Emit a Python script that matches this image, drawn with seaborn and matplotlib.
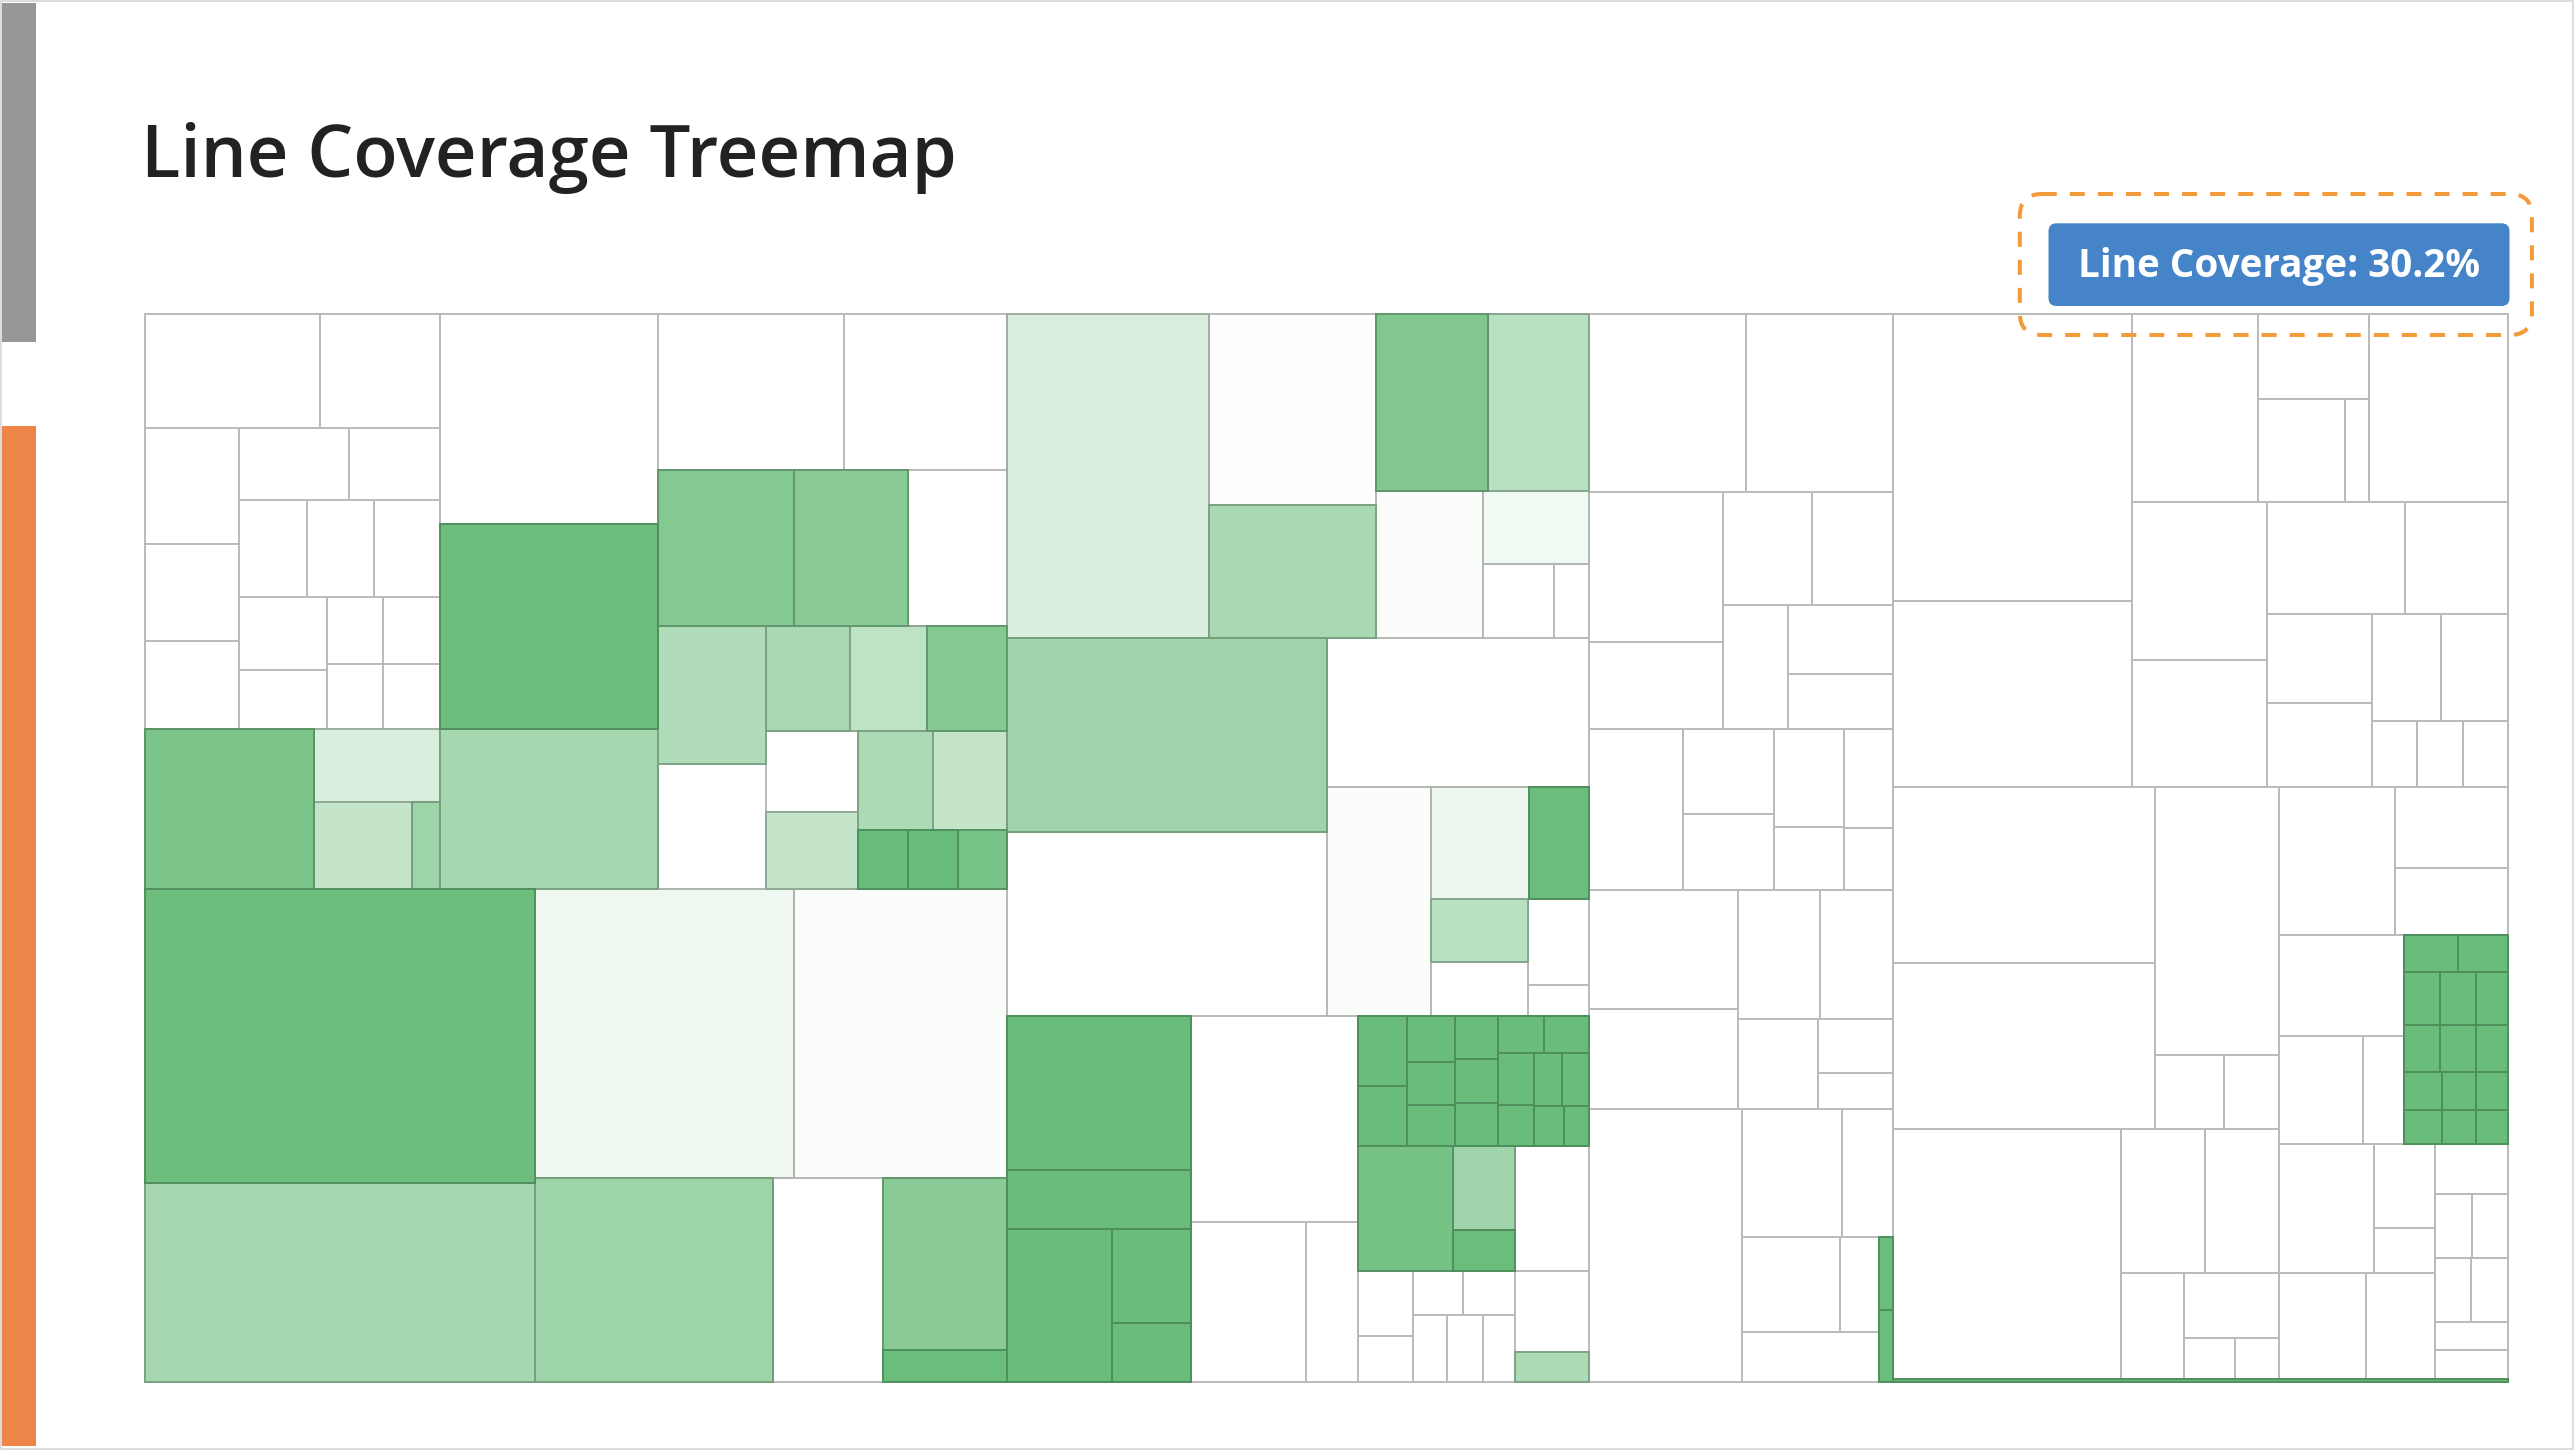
import matplotlib
matplotlib.use("Agg")
import matplotlib.pyplot as plt
from matplotlib.patches import Rectangle, FancyBboxPatch
from matplotlib.colors import to_rgb
import seaborn as sns
import numpy as np

# ---------------- data ----------------
TITLE = "Line Coverage Treemap"
OVERALL_COVERAGE = 30.2  # percent

# Leaves are (lines, coverage fraction); groups are ("H"|"V", [children])
PKG_A = ("V", [
    ("H", [
        ("V", [
            ("V", [
                ("H", [(742, 0), (507, 0)]),
                ("H", [
                    ("V", [(408, 0), (340, 0), (312, 0)]),
                    ("V", [
                        ("H", [(290, 0), (241, 0)]),
                        ("H", [(243, 0), (245, 0), (236, 0)]),
                        ("H", [
                            ("V", [(237, 0), (193, 0)]),
                            ("V", [("H", [(140, 0), (141, 0)]), ("H", [(135, 0), (136, 0)])]),
                        ]),
                    ]),
                ]),
            ]),
            ("H", [(1005, .86), ("V", [(341, .25), ("H", [(318, .39), (90, .64)])])]),
        ]),
        ("V", [(1698, 0), (1663, .95), (1296, .58)]),
        ("V", [
            ("H", [(1075, 0), (944, 0)]),
            ("H", [(788, .80), (657, .77), (571, 0)]),
            ("H", [
                ("V", [(552, .51), (500, 0)]),
                ("V", [
                    ("H", [(329, .56), (301, .43), (312, .80)]),
                    ("H", [
                        ("V", [(276, 0), (266, .39)]),
                        ("V", [("H", [(275, .54), (272, .39)]),
                               ("H", [(112, .98), (110, .98), (110, .88)])]),
                    ]),
                ]),
            ]),
        ]),
    ]),
    ("H", [
        ("V", [(4253, .95), (2892, .58)]),
        ("V", [
            ("H", [(2771, .11), (2274, .03)]),
            ("H", [(1807, .64), (830, 0), ("V", [(794, .77), (149, .97)])]),
        ]),
    ]),
])

PKG_B = ("V", [
    ("H", [
        (2428, .25),
        ("V", [(1181, .01), (825, .56)]),
        ("V", [
            ("H", [(735, .82), (660, .46)]),
            ("H", [(584, .03), ("V", [(286, .09), ("H", [(194, 0), (96, 0)])])]),
        ]),
    ]),
    ("H", [
        ("V", [(2299, .62), (2181, 0)]),
        ("V", [
            (1449, 0),
            ("H", [
                (886, .03),
                ("V", [
                    ("H", [(408, .12), (248, .97)]),
                    ("H", [("V", [(224, .46), (194, 0)]), ("V", [(192, 0), (70, 0)])]),
                ]),
            ]),
        ]),
    ]),
    ("H", [
        ("V", [(1055, .98), (402, .98), ("H", [(596, .98), ("V", [(279, .98), (174, .98)])])]),
        ("V", [(1276, 0), ("H", [(683, 0), (312, 0)])]),
        ("V", [
            ("H", [
                ("V", [(128, .98), (110, .98)]),
                ("V", [(82, .98), (74, .98), (73, .98)]),
                ("V", [(70, .98), (70, .98), (69, .98)]),
                ("V", [
                    ("H", [(65, .98), (62, .98)]),
                    ("H", [("V", [(69, .98), (56, .98)]),
                           ("V", [("H", [(55, .98), (54, .98)]), ("H", [(45, .98), (37, .98)])])]),
                ]),
            ]),
            ("H", [
                ("V", [
                    ("H", [(438, .90), ("V", [(192, .62), (95, .97)])]),
                    ("H", [("V", [(132, 0), (93, 0)]),
                           ("V", [("H", [(80, 0), (84, 0)]), ("H", [(84, 0), (90, 0), (81, 0)])])]),
                ]),
                ("V", [(343, 0), (220, 0), (84, .54)]),
            ]),
        ]),
    ]),
])

PKG_C = ("V", [
    ("H", [(1037, 0), (966, 0)]),
    ("H", [
        ("V", [(746, 0), (430, 0)]),
        ("V", [("H", [(372, 0), (339, 0)]), ("H", [(301, 0), ("V", [(269, 0), (212, 0)])])]),
    ]),
    ("H", [
        (564, 0),
        ("V", [(287, 0), (257, 0)]),
        ("V", [(257, 0), (162, 0)]),
        ("V", [(178, 0), (112, 0)]),
    ]),
    ("H", [
        ("V", [(657, 0), (553, 0)]),
        ("V", [("H", [(398, 0), (348, 0)]), ("H", [(270, 0), ("V", [(149, 0), (99, 0)])])]),
    ]),
    ("H", [
        (1546, 0),
        ("V", [
            ("H", [(478, 0), (241, 0)]),
            ("H", [
                ("V", [("H", [(344, 0), (137, 0)]), (256, 0)]),
                ("V", [(38, .97), (38, .97)]),
            ]),
        ]),
    ]),
])

PKG_D = ("V", [
    ("H", [
        ("V", [(2539, 0), (1651, 0)]),
        ("V", [
            ("H", [(881, 0), ("V", [(346, 0), ("H", [(330, 0), (92, 0)])]), (969, 0)]),
            ("H", [
                ("V", [(791, 0), (636, 0)]),
                ("V", [
                    ("H", [(577, 0), (432, 0)]),
                    ("H", [("V", [(346, 0), (329, 0)]),
                           ("V", [("H", [(274, 0), (269, 0)]), ("H", [(110, 0), (114, 0), (110, 0)])])]),
                ]),
            ]),
        ]),
    ]),
    ("H", [
        ("V", [
            ("H", [("V", [(1710, 0), (1616, 0)]), ("V", [(1245, 0), ("H", [(191, 0), (152, 0)])])]),
            ("H", [(2116, 0), ("V", [("H", [(445, 0), (396, 0)]),
                                    ("H", [(244, 0), ("V", [(233, 0), ("H", [(77, 0), (67, 0)])])])])]),
        ]),
        ("V", [
            ("H", [(637, 0), ("V", [(338, 0), (283, 0)])]),
            ("H", [("V", [(469, 0), ("H", [(336, 0), (164, 0)])]),
                   ("V", [("H", [(74, .98), (69, .98)]),
                          ("H", [(70, .98), (70, .98), (63, .98)]),
                          ("H", [(64, .98), (63, .98), (57, .98)]),
                          ("H", [(54, .98), (48, .98), (46, .98)]),
                          ("H", [(48, .98), (43, .98), (41, .98)])])]),
            ("H", [
                ("V", [("H", [(452, 0), ("V", [(188, 0), (101, 0)])]), ("H", [(341, 0), (269, 0)])]),
                ("V", [(135, 0), ("H", [(89, 0), (87, 0)]), ("H", [(84, 0), (89, 0)]), (78, 0), (78, 0)]),
            ]),
        ]),
    ]),
    (75, .97),
])

PACKAGES = [PKG_A, PKG_B, PKG_C, PKG_D]


# ---------------- layout ----------------
def is_group(node):
    return isinstance(node[0], str)


def total(node):
    if is_group(node):
        return sum(total(k) for k in node[1])
    return node[0]


def layout(node, x0, y0, x1, y1, out):
    if not is_group(node):
        out.append((x0, y0, x1, y1, node[1]))
        return
    direction, kids = node
    tot = float(sum(total(k) for k in kids))
    pos = x0 if direction == "H" else y0
    for k in kids:
        f = total(k) / tot
        if direction == "H":
            w = (x1 - x0) * f
            layout(k, pos, y0, pos + w, y1, out)
            pos += w
        else:
            h = (y1 - y0) * f
            layout(k, x0, pos, x1, pos + h, out)
            pos += h


# ---------------- drawing ----------------
W_PX, H_PX, DPI = 2574, 1450, 100

sns.set_theme(style="white")
plt.rcParams['font.family'] = ['Open Sans', 'DejaVu Sans']
plt.rcParams['lines.scale_dashes'] = False

cmap = sns.blend_palette(["#ffffff", "#66bb77"], as_cmap=True)
edge_lo = np.array(to_rgb("#bababa"))
edge_hi = np.array(to_rgb("#4c8e5a"))

fig = plt.figure(figsize=(W_PX / DPI, H_PX / DPI), dpi=DPI)
fig.patch.set_facecolor("white")

page = fig.add_axes([0, 0, 1, 1])
page.set_xlim(0, W_PX)
page.set_ylim(H_PX, 0)
page.axis("off")

# outer frame and side accent bars
page.add_patch(Rectangle((0.8, 0.8), W_PX - 2.3, H_PX - 2.3, fill=False,
                         ec="#d2d2d2", lw=1.1, zorder=1))
page.add_patch(Rectangle((1.7, 2.8), 34, 339, fc="#979797", ec="none", zorder=2))
page.add_patch(Rectangle((1.7, 426), 34, 1020, fc="#ED8548", ec="none", zorder=2))

# title
page.text(141, 176.7, TITLE, fontsize=52.2, color="#222222", ha="left",
          va="baseline", fontweight="semibold")

# treemap axes
tm_left, tm_right, tm_top, tm_bottom = 144.5, 2508.4, 314.2, 1382.2
ax = fig.add_axes([tm_left / W_PX, 1 - tm_bottom / H_PX,
                   (tm_right - tm_left) / W_PX, (tm_bottom - tm_top) / H_PX])
ax.set_xlim(0, 1)
ax.set_ylim(1, 0)
ax.axis("off")

grand = float(sum(total(p) for p in PACKAGES))
cells = []
xpos = 0.0
for pkg in PACKAGES:
    w = total(pkg) / grand
    layout(pkg, xpos, 0.0, xpos + w, 1.0, cells)
    xpos += w

for (x0, y0, x1, y1, c) in sorted(cells, key=lambda t: t[4]):
    ec = edge_lo * (1 - c) + edge_hi * c
    ax.add_patch(Rectangle((x0, y0), x1 - x0, y1 - y0, fc=cmap(c), ec=ec,
                           lw=1.4, zorder=1 + c, clip_on=False))

# overlay axes (on top of the treemap) for the coverage badge
top = fig.add_axes([0, 0, 1, 1], facecolor="none")
top.set_xlim(0, W_PX)
top.set_ylim(H_PX, 0)
top.axis("off")
top.patch.set_alpha(0)

top.add_patch(FancyBboxPatch((2048.5, 223.3), 461, 82.7,
                             boxstyle="round,pad=0,rounding_size=8",
                             fc="#4584C9", ec="none", zorder=5))
top.text(2279, 277.3, f"Line Coverage: {OVERALL_COVERAGE:.1f}%", fontsize=27.8,
         color="white", fontweight="bold", ha="center", va="baseline", zorder=6)
top.add_patch(FancyBboxPatch((2019.8, 194), 512.1, 141,
                             boxstyle="round,pad=0,rounding_size=22",
                             fill=False, ec="#F39B3A", lw=2.9,
                             linestyle=(0, (10.8, 9.4)), zorder=7))

fig.savefig("out.png", dpi=DPI, facecolor="white")
